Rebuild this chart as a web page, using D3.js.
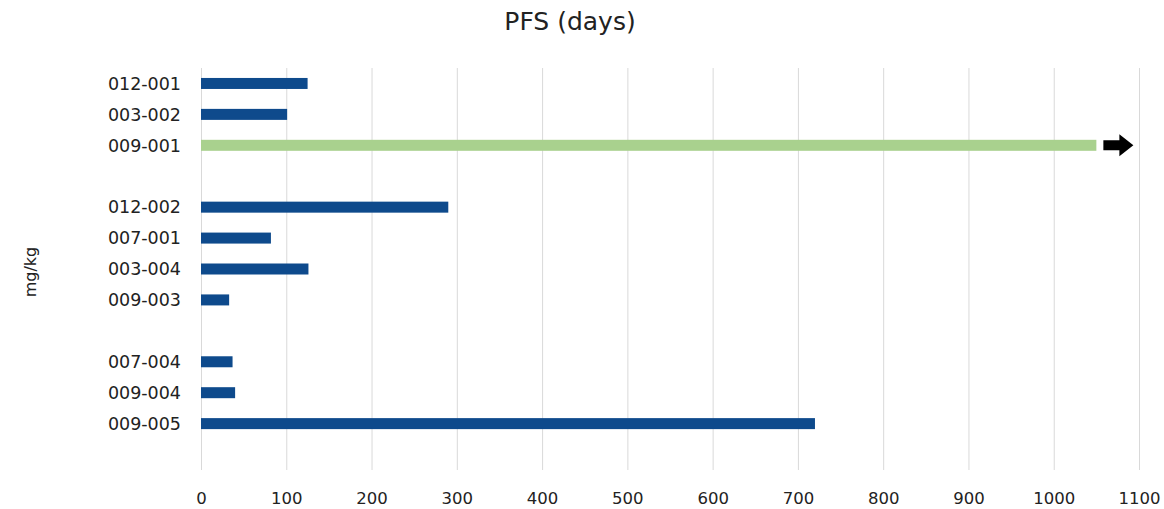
<!DOCTYPE html>
<html><head><meta charset="utf-8">
<script src="https://cdn.jsdelivr.net/npm/d3@7"></script>
<style>body{margin:0;background:#fff;} text{font-family:"DejaVu Sans",sans-serif;fill:#222;}</style>
</head><body>
<svg id="c" width="1164" height="509"></svg>
<script>
const slots = ["012-001","003-002","009-001","g1","012-002","007-001","003-004","009-003","g2","007-004","009-004","009-005","g3"];
const patients = ["012-001","003-002","009-001","012-002","007-001","003-004","009-003","007-004","009-004","009-005"];
const pfsDays = [125,101,1050,290,82,126,33,37,40,720];
const ongoing = [false,false,true,false,false,false,false,false,false,false];
const xTicks = [0,100,200,300,400,500,600,700,800,900,1000,1100];

const svg = d3.select("#c");
const m = {l:201, r:1139, t:68, b:470};
const x = d3.scaleLinear().domain([0,1100]).range([m.l, m.r]);
const y = d3.scaleBand().domain(slots).range([m.t, m.b]).paddingInner(0).paddingOuter(0);
const FONT = "'DejaVu Sans',sans-serif";

svg.append("g").selectAll("line").data(xTicks).join("line")
  .attr("x1",d=>x(d)+0.5).attr("x2",d=>x(d)+0.5)
  .attr("y1",m.t).attr("y2",m.b)
  .attr("stroke","#d9d9d9").attr("stroke-width",1);

const xa = svg.append("g").attr("transform",`translate(0,${m.b})`)
  .call(d3.axisBottom(x).tickValues(xTicks).tickFormat(d3.format("d")).tickSize(0).tickPadding(22));
xa.select(".domain").remove();
xa.selectAll("text").style("font-size","16.5px").style("font-family",FONT).attr("fill","#222");

const ya = svg.append("g").attr("transform",`translate(${m.l},0)`)
  .call(d3.axisLeft(y).tickValues(patients).tickSize(0).tickPadding(20));
ya.select(".domain").remove();
ya.selectAll("text").style("font-size","17.5px").style("font-family",FONT).attr("fill","#222").attr("dy","0.36em");

const bh = 11;
svg.append("g").selectAll("rect").data(patients).join("rect")
  .attr("x", x(0)).attr("width",(d,i)=>x(pfsDays[i])-x(0))
  .attr("y", d=>y(d)+y.bandwidth()/2-bh/2).attr("height",bh)
  .attr("fill",(d,i)=>ongoing[i]?"#a9d18e":"#0e4a8c");

patients.forEach((p,i)=>{
  if(!ongoing[i]) return;
  const x0 = x(pfsDays[i])+7, cy = y(p)+y.bandwidth()/2;
  const pts = [[x0,cy-5],[x0+16,cy-5],[x0+16,cy-11],[x0+30,cy],[x0+16,cy+11],[x0+16,cy+5],[x0,cy+5]];
  svg.append("polygon").attr("points",pts.map(q=>q.join(",")).join(" ")).attr("fill","#000");
});

svg.append("text").attr("x",570).attr("y",30).attr("text-anchor","middle")
  .style("font-size","25px").style("font-family",FONT).text("PFS (days)");
svg.append("text").attr("transform","translate(36,272) rotate(-90)").attr("text-anchor","middle")
  .style("font-size","16px").style("font-family",FONT).text("mg/kg");
</script>
</body></html>
